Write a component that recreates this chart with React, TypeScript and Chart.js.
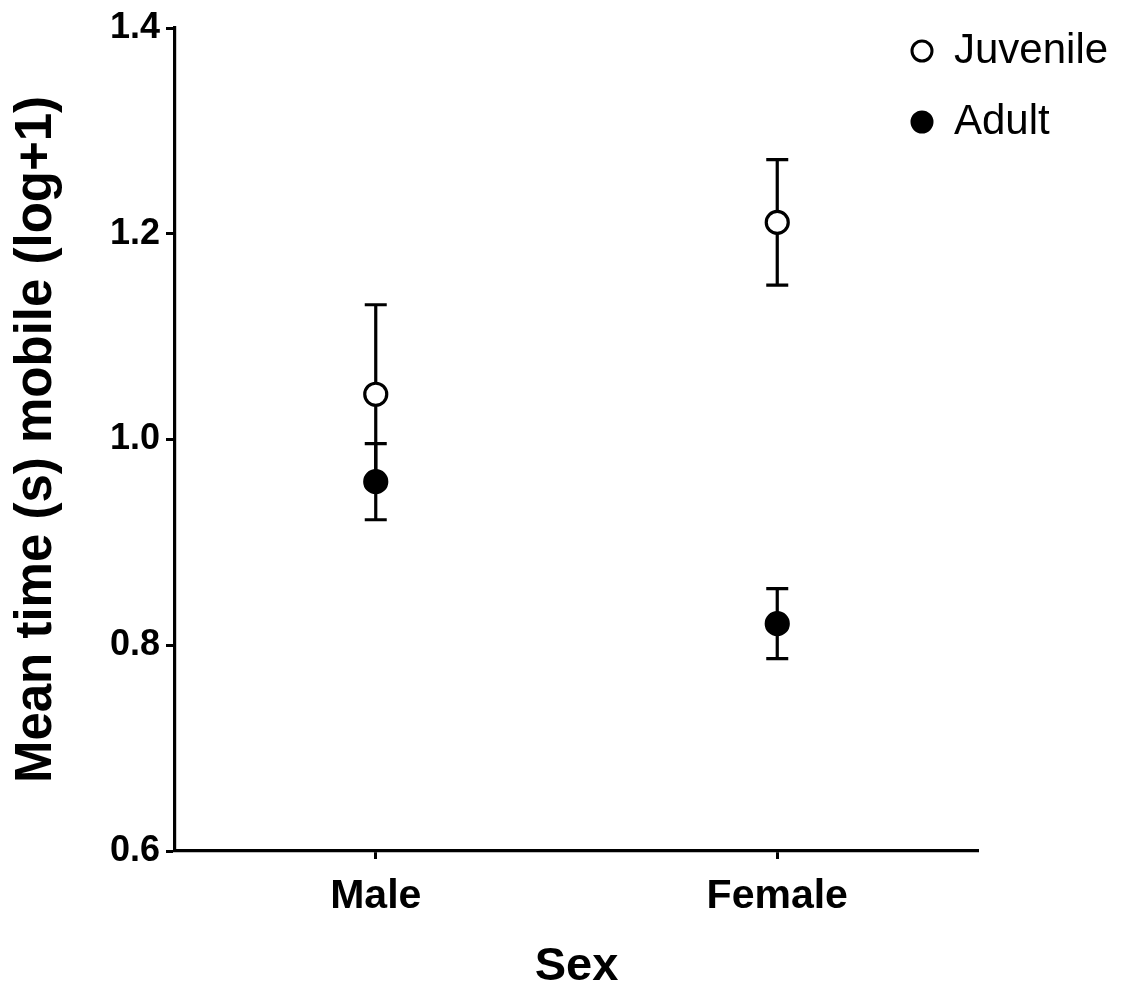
import React, { useEffect, useRef } from 'react';
import { Chart, registerables } from 'chart.js';

Chart.register(...registerables);

const categories = ['Male', 'Female'];
const juvenileMean = [1.044, 1.211];
const juvenileErr = [0.087, 0.061];
const adultMean = [0.959, 0.821];
const adultErr = [0.037, 0.034];
const yMin = 0.6;
const yMax = 1.4;
const yStep = 0.2;
const seriesNames = ['Juvenile', 'Adult'];
const xTitle = 'Sex';
const yTitle = 'Mean time (s) mobile (log+1)';

const FONT = "'Liberation Sans', Arial, Helvetica, sans-serif";

const errorBarPlugin = {
  id: 'errorBars',
  beforeDatasetsDraw(chart: any) {
    const ctx = chart.ctx;
    const ys = chart.scales.y;
    chart.data.datasets.forEach((ds: any, i: number) => {
      const meta = chart.getDatasetMeta(i);
      meta.data.forEach((pt: any, j: number) => {
        const m = ds.data[j];
        const e = ds.errors[j];
        const x = pt.x;
        const yTop = ys.getPixelForValue(m + e);
        const yBot = ys.getPixelForValue(m - e);
        const cap = 11;
        ctx.save();
        ctx.strokeStyle = '#000';
        ctx.lineWidth = 3.2;
        ctx.beginPath();
        ctx.moveTo(x, yTop);
        ctx.lineTo(x, yBot);
        ctx.moveTo(x - cap, yTop);
        ctx.lineTo(x + cap, yTop);
        ctx.moveTo(x - cap, yBot);
        ctx.lineTo(x + cap, yBot);
        ctx.stroke();
        ctx.restore();
      });
    });
  },
};

const customLegendPlugin = {
  id: 'customLegend',
  afterDraw(chart: any) {
    const ctx = chart.ctx;
    const x0 = 922;
    const y0 = 51;
    const gap = 71;
    chart.data.datasets.forEach((ds: any, i: number) => {
      const cy = y0 + i * gap;
      ctx.save();
      ctx.beginPath();
      ctx.arc(x0, cy, 10, 0, Math.PI * 2);
      ctx.fillStyle = ds.pointBackgroundColor;
      ctx.fill();
      ctx.lineWidth = 3;
      ctx.strokeStyle = '#000';
      ctx.stroke();
      ctx.fillStyle = '#000';
      ctx.font = `normal 42px ${FONT}`;
      ctx.textAlign = 'left';
      ctx.textBaseline = 'middle';
      ctx.fillText(ds.label, 954, cy);
      ctx.restore();
    });
  },
};

export default function App() {
  const ref = useRef<HTMLCanvasElement | null>(null);

  useEffect(() => {
    if (!ref.current) return;
    const chart = new Chart(ref.current, {
      type: 'line',
      data: {
        labels: categories,
        datasets: [
          {
            label: seriesNames[0],
            data: juvenileMean,
            errors: juvenileErr,
            showLine: false,
            pointRadius: 11,
            pointHoverRadius: 11,
            pointBorderWidth: 3.2,
            pointBorderColor: '#000',
            pointBackgroundColor: '#fff',
            borderColor: '#000',
            backgroundColor: '#fff',
          } as any,
          {
            label: seriesNames[1],
            data: adultMean,
            errors: adultErr,
            showLine: false,
            pointRadius: 11,
            pointHoverRadius: 11,
            pointBorderWidth: 3.2,
            pointBorderColor: '#000',
            pointBackgroundColor: '#000',
            borderColor: '#000',
            backgroundColor: '#000',
          } as any,
        ],
      },
      options: {
        responsive: false,
        animation: false,
        layout: { padding: { left: 0, right: 143, top: 28, bottom: 0 } },
        plugins: {
          legend: { display: false },
          tooltip: { enabled: false },
        },
        scales: {
          x: {
            type: 'category',
            offset: true,
            afterFit(scale: any) {
              scale.height = 140;
            },
            grid: {
              offset: false,
              drawOnChartArea: false,
              drawTicks: true,
              tickLength: 8,
              tickWidth: 3,
              tickColor: '#000',
            },
            border: { display: true, width: 3.2, color: '#000' },
            ticks: {
              color: '#000',
              padding: 13,
              font: { family: FONT, size: 41, weight: 'bold' },
            },
            title: {
              display: true,
              text: xTitle,
              color: '#000',
              font: { family: FONT, size: 47, weight: 'bold', lineHeight: 1 },
              padding: { top: 0, bottom: 0 },
            },
          },
          y: {
            min: yMin,
            max: yMax,
            afterFit(scale: any) {
              scale.width = 175;
            },
            grid: {
              drawOnChartArea: false,
              drawTicks: true,
              tickLength: 9,
              tickWidth: 3,
              tickColor: '#000',
            },
            border: { display: true, width: 3.2, color: '#000' },
            ticks: {
              stepSize: yStep,
              color: '#000',
              padding: 6,
              font: { family: FONT, size: 36, weight: 'bold' },
              callback: (v: any) => Number(v).toFixed(1),
            },
            title: {
              display: true,
              text: yTitle,
              color: '#000',
              font: { family: FONT, size: 51, weight: 'bold', lineHeight: 1.2 },
              padding: { top: 6, bottom: 0 },
            },
          },
        },
      } as any,
      plugins: [errorBarPlugin, customLegendPlugin],
    });
    return () => chart.destroy();
  }, []);

  return (
    <canvas
      ref={ref}
      width={1121}
      height={991}
      style={{ position: 'absolute', left: 0, top: 0, display: 'block', background: '#fff' }}
    />
  );
}
